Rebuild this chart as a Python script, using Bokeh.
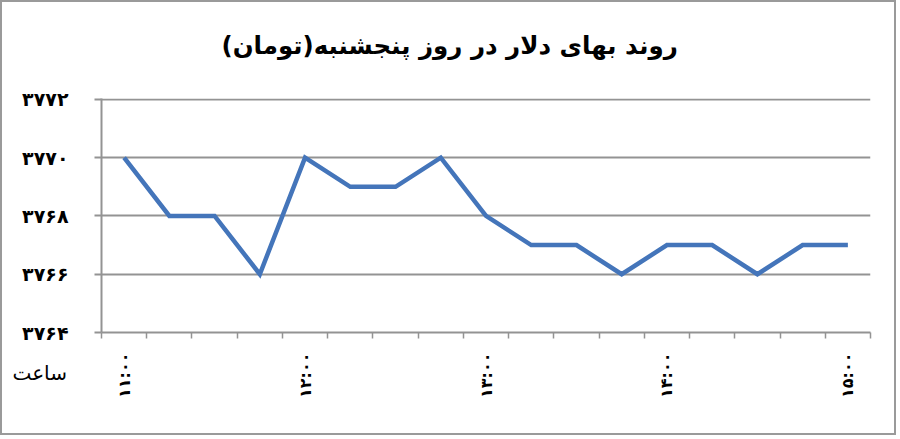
import math
from bokeh.plotting import figure
from bokeh.models import FixedTicker, Range1d, Title
from bokeh.embed import file_html
from bokeh.resources import INLINE

# ---- data ----
times = ["11:00", "11:15", "11:30", "11:45", "12:00", "12:15", "12:30", "12:45",
         "13:00", "13:15", "13:30", "13:45", "14:00", "14:15", "14:30", "14:45", "15:00"]
prices = [3770, 3768, 3768, 3766, 3770, 3769, 3769, 3770,
          3768, 3767, 3767, 3766, 3767, 3767, 3766, 3767, 3767]
x_label_positions = [0, 4, 8, 12, 16]
x_label_texts = ["۱۱:۰۰", "۱۲:۰۰", "۱۳:۰۰", "۱۴:۰۰", "۱۵:۰۰"]
y_ticks = [3764, 3766, 3768, 3770, 3772]
y_tick_texts = ["۳۷۶۴", "۳۷۶۶", "۳۷۶۸", "۳۷۷۰", "۳۷۷۲"]
title_text = "روند بهای دلار در روز پنجشنبه(تومان)"
x_axis_name = "ساعت"

FONT = "DejaVu Sans"
GRID = "#939393"

idx = list(range(len(times)))

p = figure(width=896, height=435, output_backend="svg", toolbar_location=None,
           x_range=Range1d(-0.5, len(times) - 0.5), y_range=Range1d(3764, 3772.03),
           min_border_left=99, min_border_right=28, min_border_bottom=105, min_border_top=96,
           background_fill_color="white", border_fill_color="white")
p.styles = {"border": "2px solid #9a9a9a"}
p.outline_line_color = None

p.title = Title(text=title_text, align="left", offset=120, vertical_align="top",
                text_font=FONT, text_font_size="24.5px",
                text_font_style="bold", text_color="black", standoff=0)
# blank spacer between the title and the plot area
p.add_layout(Title(text=" ", text_font_size="10px", standoff=24), "above")

p.line(idx, prices, line_color="#4475BA", line_width=4.5, line_join="miter")

# y axis
p.yaxis.ticker = FixedTicker(ticks=y_ticks)
p.yaxis.major_label_overrides = {t: s for t, s in zip(y_ticks, y_tick_texts)}
p.yaxis.major_label_text_font = FONT
p.yaxis.major_label_text_font_size = "19px"
p.yaxis.major_label_text_font_style = "bold"
p.yaxis.major_label_text_color = "black"
p.yaxis.major_label_standoff = 26
p.yaxis.axis_line_color = GRID
p.yaxis.axis_line_width = 2
p.yaxis.major_tick_line_color = GRID
p.yaxis.major_tick_line_width = 2
p.yaxis.major_tick_out = 7
p.yaxis.major_tick_in = 0
p.yaxis.minor_tick_line_color = None

# x axis: labels every hour, tick marks at category boundaries
boundaries = [i - 0.5 for i in range(len(times) + 1)]
p.xaxis.ticker = FixedTicker(ticks=x_label_positions, minor_ticks=boundaries)
p.xaxis.major_label_overrides = {t: s for t, s in zip(x_label_positions, x_label_texts)}
p.xaxis.major_label_orientation = math.pi / 2
p.xaxis.major_label_text_font = FONT
p.xaxis.major_label_text_font_size = "16px"
p.xaxis.major_label_text_font_style = "bold"
p.xaxis.major_label_text_color = "black"
p.xaxis.major_label_standoff = 14
p.xaxis.axis_line_color = GRID
p.xaxis.axis_line_width = 2
p.xaxis.major_tick_line_color = None
p.xaxis.minor_tick_line_color = GRID
p.xaxis.minor_tick_line_width = 1.5
p.xaxis.minor_tick_out = 6
p.xaxis.minor_tick_in = 0

p.xgrid.grid_line_color = None
p.ygrid.ticker = FixedTicker(ticks=y_ticks)
p.ygrid.grid_line_color = GRID
p.ygrid.grid_line_width = 2

# axis name under the y labels
p.add_layout(Title(text=x_axis_name, align="left", offset=-89, vertical_align="top",
                   standoff=-80, text_font=FONT,
                   text_font_size="20px", text_font_style="normal", text_color="black"), "below")

open("out.html", "w").write(file_html(p, INLINE))
